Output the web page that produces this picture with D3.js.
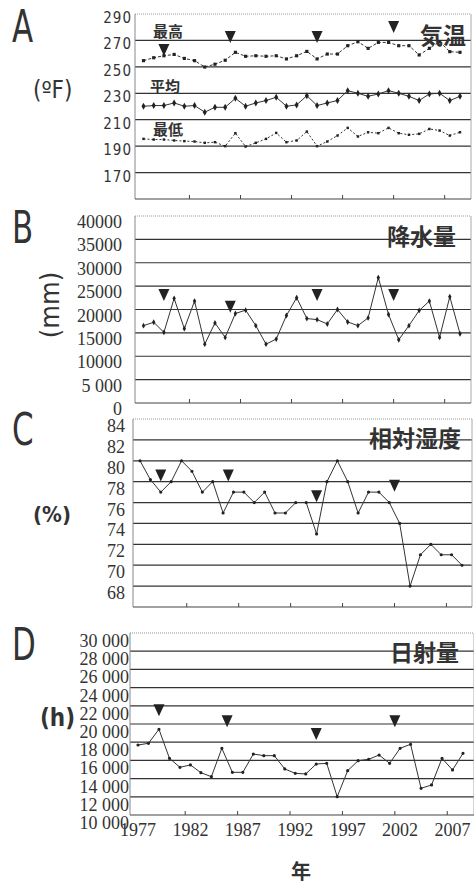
<!DOCTYPE html>
<html>
<head>
<meta charset="utf-8">
<script src="https://cdn.jsdelivr.net/npm/d3@7"></script>
<style>
  body { margin: 0; background: #fff; }
  .tick-a { font-family: "Liberation Sans Narrow", "DejaVu Sans Condensed", sans-serif; font-size: 15px; fill: #333; letter-spacing: 1px; }
  .tick-s { font-family: "Liberation Serif", "DejaVu Serif", serif; font-size: 18px; fill: #333; }
  .panel { font-family: "Liberation Sans Narrow", "DejaVu Sans Condensed", sans-serif; font-size: 44px; fill: #333; }
  .unit { font-family: "Liberation Sans Narrow", "DejaVu Sans Condensed", sans-serif; font-size: 22px; fill: #333; }
  .title { font-family: "Noto Sans CJK JP", sans-serif; font-weight: bold; font-size: 23px; fill: #333; }
  .series { font-family: "Noto Sans CJK JP", sans-serif; font-weight: bold; font-size: 15px; fill: #333; }
</style>
</head>
<body>
<div id="chart"></div>
<script>
// years on the category axis
var years = [1977, 1978, 1979, 1980, 1981, 1982, 1983, 1984, 1985, 1986, 1987,
  1988, 1989, 1990, 1991, 1992, 1993, 1994, 1995, 1996, 1997, 1998, 1999,
  2000, 2001, 2002, 2003, 2004, 2005, 2006, 2007, 2008];
var yearLabels = [1977, 1982, 1987, 1992, 1997, 2002, 2007];
var yearTicks = [1981.5, 1986.5, 1991.5, 1996.5, 2001.5, 2006.5];

// A: temperature (max / mean / min)
var tempMax = [254.7, 256.9, 258.4, 259.4, 256.4, 254.7, 249.9, 252, 255, 261, 258,
  258.4, 258, 258.4, 256, 258.4, 261.7, 256, 259.7, 259.7, 266, 269, 264,
  268.5, 268.5, 266, 266, 259, 264, 269, 261.5, 261];
var tempMean = [220.2, 220.7, 220.7, 222.7, 220.2, 220.7, 215.7, 219.4, 219.4, 226.2, 220.2,
  222.7, 224.5, 227, 220.2, 221.2, 228.2, 220.7, 222.7, 224.5, 232, 230, 227.7,
  229.5, 232, 230, 227.7, 224.5, 229.5, 230, 224.5, 227.7];
var tempMin = [195.5, 195, 195, 194.3, 193.8, 193.5, 192.5, 193, 190, 199.8, 189.7,
  192.5, 195.5, 200, 193, 194.3, 201, 190, 193.5, 198, 203.8, 197.3, 200.5,
  199.8, 203.8, 199.8, 198.6, 199.3, 203, 201.8, 198, 200.5];
var tempTicks = [170, 190, 210, 230, 250, 270, 290];

// B: precipitation
var precip = [16550, 17270, 15110, 22370, 15900, 21800, 12590, 17120, 14030, 19140, 19860,
  16550, 12590, 13670, 18710, 22520, 18060, 17840, 16910, 20000, 17340, 16550, 18200,
  26830, 18920, 13530, 16550, 19780, 21800, 14030, 22730, 14820];
var precipTicks = [0, 5000, 10000, 15000, 20000, 25000, 30000, 35000, 40000];

// C: relative humidity (line is broken between 1992 and 1993)
var humidity = [80, 78.2, 77, 78, 80, 79, 77, 78, 75, 77, 77,
  76, 77, 75, 75, 76, 76, 73, 78, 80, 78, 75, 77,
  77, 76, 74, 68, 71, 72, 71, 71, 70];
var humidBreakAfter = 1992;
var humidTicks = [68, 70, 72, 74, 76, 78, 80, 82, 84];

// D: solar radiation
var solar = [17690, 17880, 19420, 16230, 15240, 15500, 14650, 14210, 17330, 14690, 14690,
  16700, 16520, 16520, 15060, 14580, 14510, 15600, 15680, 12010, 14870, 15970, 16120,
  16590, 15680, 17330, 17770, 12930, 13300, 16230, 14950, 16780];
var solarTicks = [10000, 12000, 14000, 16000, 18000, 20000, 22000, 24000, 26000, 28000, 30000];

// ▼ event markers
var markYears = [1979, 1985.5, 1994, 2001.5];
var tempMarks = [262.8, 272.6, 272.6, 280.2];
var precipMarks = [23100, 20600, 23100, 23100];
var humidMarks = [78.6, 78.6, 76.6, 77.6];
var solarMarks = [21500, 20300, 18900, 20300];

var svg = d3.select("#chart").append("svg")
  .attr("width", 474)
  .attr("height", 885);

function drawPanel(p) {
  var x = d3.scaleLinear().domain([1977, 2008]).range(p.xRange);
  var y = d3.scaleLinear().domain(p.domain).range([p.bottom, p.top]);
  var g = svg.append("g");

  // grid lines
  g.selectAll("line.grid")
    .data(p.ticks.filter(function (t) { return t > p.domain[0] && t < p.domain[1]; }))
    .enter().append("line")
    .attr("x1", p.left).attr("x2", p.right)
    .attr("y1", function (d) { return y(d); })
    .attr("y2", function (d) { return y(d); })
    .attr("stroke", "#333").attr("stroke-width", 1.2);

  // box
  g.append("line").attr("x1", p.left).attr("x2", p.right)
    .attr("y1", p.top).attr("y2", p.top)
    .attr("stroke", "#999").attr("stroke-dasharray", "1,1");
  g.append("line").attr("x1", p.left).attr("x2", p.left)
    .attr("y1", p.top).attr("y2", p.bottom).attr("stroke", "#888");
  g.append("line").attr("x1", p.right).attr("x2", p.right)
    .attr("y1", p.top).attr("y2", p.bottom).attr("stroke", "#aaa");
  g.append("line").attr("x1", p.left).attr("x2", p.right)
    .attr("y1", p.bottom).attr("y2", p.bottom).attr("stroke", "#444").attr("stroke-width", 1.2);

  // x ticks (inside, pointing up)
  g.selectAll("line.xt").data(yearTicks).enter().append("line")
    .attr("x1", function (d) { return x(d); })
    .attr("x2", function (d) { return x(d); })
    .attr("y1", p.bottom).attr("y2", p.bottom - 4)
    .attr("stroke", "#444");

  // y tick labels
  g.selectAll("text.yl").data(p.ticks).enter().append("text")
    .attr("class", p.tickClass)
    .attr("x", p.labelX)
    .attr("y", function (d) { return y(d) + p.labelDy; })
    .attr("text-anchor", "end")
    .attr("dominant-baseline", "central")
    .text(p.fmt);

  // series
  p.series.forEach(function (s) {
    var line = d3.line()
      .x(function (d) { return x(d.year); })
      .y(function (d) { return y(d.v); });
    var pts = years.map(function (yr, i) { return { year: yr, v: s.values[i] }; });
    var parts = s.breakAfter ? [
      pts.filter(function (d) { return d.year <= s.breakAfter; }),
      pts.filter(function (d) { return d.year > s.breakAfter; })
    ] : [pts];
    parts.forEach(function (part) {
      g.append("path").datum(part)
        .attr("d", line)
        .attr("fill", "none")
        .attr("stroke", "#333")
        .attr("stroke-width", 1)
        .attr("stroke-dasharray", s.dash || null);
    });
    g.selectAll(null).data(pts).enter().append("path")
      .attr("transform", function (d) { return "translate(" + x(d.year) + "," + y(d.v) + ")"; })
      .attr("d", d3.symbol().type(s.symbol).size(s.size))
      .attr("fill", "#222");
  });

  // event triangles
  g.selectAll("path.mk").data(markYears.map(function (yr, i) { return { year: yr, v: p.marks[i] }; }))
    .enter().append("path")
    .attr("transform", function (d) { return "translate(" + x(d.year) + "," + y(d.v) + ")"; })
    .attr("d", "M-5.5,-6L5.5,-6L0,6Z")
    .attr("fill", "#222");

  // title
  g.append("text").attr("class", "title")
    .attr("x", p.titleX).attr("y", p.titleY)
    .attr("text-anchor", "end")
    .text(p.title);

  // panel letter (condensed)
  g.append("text").attr("class", "panel")
    .attr("transform", "translate(12," + p.letterY + ") scale(0.78,1)")
    .text(p.letter);

  return { x: x, y: y, g: g };
}

// A
var pa = drawPanel({
  letter: "A", letterY: 42, title: "気温", titleX: 466, titleY: 44,
  top: 14, bottom: 199, left: 135, right: 471, xRange: [143.5, 460],
  domain: [150, 290], ticks: tempTicks, tickClass: "tick-a", labelX: 132, labelDy: 4,
  fmt: function (d) { return d; },
  marks: tempMarks,
  series: [
    { values: tempMax, dash: "3,2", symbol: d3.symbolSquare, size: 10 },
    { values: tempMean, symbol: d3.symbolDiamond, size: 14 },
    { values: tempMin, dash: "2,2", symbol: d3.symbolSquare, size: 6 }
  ]
});
pa.g.append("text").attr("class", "series").attr("x", 153).attr("y", 37).text("最高");
pa.g.append("text").attr("class", "series").attr("x", 150).attr("y", 92).text("平均");
pa.g.append("text").attr("class", "series").attr("x", 153).attr("y", 135).text("最低");
pa.g.append("text").attr("class", "unit").attr("x", 33).attr("y", 98)
  .style("font-size", "24px").text("(ºF)");

// B
var pb = drawPanel({
  letter: "B", letterY: 243, title: "降水量", titleX: 456, titleY: 245,
  top: 216, bottom: 403, left: 135, right: 471, xRange: [143.5, 460],
  domain: [0, 40000], ticks: precipTicks, tickClass: "tick-s", labelX: 122, labelDy: 6,
  fmt: function (d) { return d === 5000 ? "5 000" : d; },
  marks: precipMarks,
  series: [{ values: precip, symbol: d3.symbolDiamond, size: 10 }]
});
pb.g.append("text").attr("class", "unit")
  .attr("transform", "translate(59,305) rotate(-90)")
  .attr("text-anchor", "middle")
  .style("font-size", "27px")
  .text("(mm)");

// C
var pc = drawPanel({
  letter: "C", letterY: 445, title: "相対湿度", titleX: 461, titleY: 447,
  top: 419, bottom: 607, left: 133, right: 472, xRange: [140, 462],
  domain: [66, 84], ticks: humidTicks, tickClass: "tick-s", labelX: 125, labelDy: 7,
  fmt: function (d) { return d; },
  marks: humidMarks,
  series: [{ values: humidity, symbol: d3.symbolCircle, size: 8, breakAfter: humidBreakAfter }]
});
pc.g.append("text").attr("class", "unit").attr("x", 33).attr("y", 522)
  .style("font-weight", "bold").text("(%)");

// D
var pd = drawPanel({
  letter: "D", letterY: 660, title: "日射量", titleX: 459, titleY: 661,
  top: 633, bottom: 815, left: 130, right: 474, xRange: [138, 463],
  domain: [10000, 30000], ticks: solarTicks, tickClass: "tick-s", labelX: 129, labelDy: 8,
  fmt: function (d) { return d3.format(",")(d).replace(",", " "); },
  marks: solarMarks,
  series: [{ values: solar, symbol: d3.symbolCircle, size: 8 }]
});
pd.g.append("text").attr("class", "unit").attr("x", 40).attr("y", 726)
  .style("font-weight", "bold").style("font-size", "24px").text("(h)");

// x labels under D
pd.g.selectAll("text.xl").data(yearLabels).enter().append("text")
  .attr("class", "tick-s")
  .attr("x", function (d) { return pd.x(d); })
  .attr("y", 836)
  .attr("text-anchor", "middle")
  .text(function (d) { return d; });

svg.append("text").attr("class", "title")
  .attr("x", 301).attr("y", 879)
  .attr("text-anchor", "middle")
  .style("font-size", "20px")
  .text("年");
</script>
</body>
</html>
